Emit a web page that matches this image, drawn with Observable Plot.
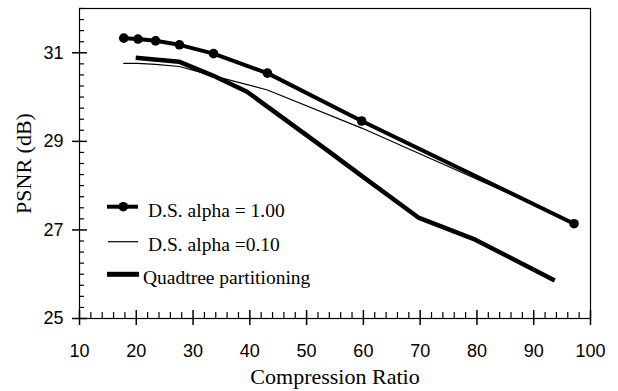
<!DOCTYPE html>
<html>
<head>
<meta charset="utf-8">
<script src="https://cdn.jsdelivr.net/npm/d3@7"></script>
<script src="https://cdn.jsdelivr.net/npm/@observablehq/plot@0.6"></script>
<style>
  html, body { margin: 0; padding: 0; background: #fff; }
  #wrap { position: relative; width: 618px; height: 391px; }
  #wrap svg.plot { position: absolute; left: 0; top: 0; }
  g[aria-label="x-axis tick label"], g[aria-label="y-axis tick label"] {
    font-family: "Liberation Sans", Arial, sans-serif; font-size: 18px;
  }
  #legend { position: absolute; left: 0; top: 0; pointer-events: none; }
  #legend text { font-family: "Liberation Serif", "Times New Roman", serif; font-size: 19.5px; fill: #000; }
</style>
</head>
<body>
<div id="wrap"></div>
<script>
// Data
const ratioDS1  = [17.8, 20.3, 23.4, 27.6, 33.6, 43.1, 59.7, 97.1];
const psnrDS1   = [31.33, 31.31, 31.27, 31.18, 30.98, 30.54, 29.46, 27.14];
const ratioDS01 = [17.8, 20.3, 23.4, 27.6, 33.6, 43.1, 59.7, 97.0];
const psnrDS01  = [30.76, 30.76, 30.74, 30.69, 30.48, 30.16, 29.30, 27.18];
const ratioQT   = [19.9, 27.5, 33.6, 39.5, 53.3, 59.7, 69.8, 79.7, 93.7];
const psnrQT    = [30.89, 30.80, 30.48, 30.12, 28.83, 28.22, 27.27, 26.78, 25.86];
const xTicks = [10, 20, 30, 40, 50, 60, 70, 80, 90, 100];
const yTicks = [25, 27, 29, 31];
const xMinor = d3.range(10, 100.01, 2).filter(v => v % 10 !== 0);
const yMinor = d3.range(25, 32.001, 0.25).filter(v => v % 2 !== 1);
const seriesNames = ["D.S. alpha = 1.00", "D.S. alpha =0.10", "Quadtree partitioning"];

const ds1  = ratioDS1.map((x, i) => ({x, y: psnrDS1[i]}));
const ds01 = ratioDS01.map((x, i) => ({x, y: psnrDS01[i]}));
const qt   = ratioQT.map((x, i) => ({x, y: psnrQT[i]}));

const W = 618, H = 391, mL = 79, mR = 28, mT = 8, mB = 73;
const pxX = (100 - 10) / (W - mL - mR);   // data units per pixel
const pxY = (32 - 25) / (H - mT - mB);

const chart = Plot.plot({
  width: W, height: H,
  marginLeft: mL, marginRight: mR, marginTop: mT, marginBottom: mB,
  style: { fontFamily: "Liberation Serif, serif", fontSize: "18px", color: "#000", background: "#fff" },
  x: { domain: [10, 100] },
  y: { domain: [25, 32] },
  marks: [
    Plot.frame({ stroke: "#000", strokeWidth: 1.2 }),
    // minor ticks (inward)
    Plot.ruleX(xMinor, { y1: 25, y2: 25 + 6 * pxY, stroke: "#000", strokeWidth: 1.2 }),
    Plot.ruleY(yMinor, { x1: 10, x2: 10 + 5 * pxX, stroke: "#000", strokeWidth: 1.2 }),
    // major ticks (inward part)
    Plot.ruleX(xTicks, { y1: 25, y2: 25 + 8 * pxY, stroke: "#000", strokeWidth: 1.5 }),
    Plot.ruleY(yTicks, { x1: 10, x2: 10 + 8 * pxX, stroke: "#000", strokeWidth: 1.5 }),
    Plot.axisX({ ticks: xTicks, tickSize: 7, tickPadding: 19, tickFormat: d => String(d), label: null, strokeWidth: 1.5 }),
    Plot.axisY({ ticks: yTicks, tickSize: 7, tickPadding: 9, tickFormat: d => String(d), label: null, strokeWidth: 1.5 }),
    Plot.text(["Compression Ratio"], { frameAnchor: "bottom", dy: 58, fontSize: 22, fontFamily: "Liberation Serif, serif", lineAnchor: "middle", textAnchor: "middle" }),
    Plot.text(["PSNR (dB)"], { frameAnchor: "left", dx: -56, rotate: -90, fontSize: 22, fontFamily: "Liberation Serif, serif", lineAnchor: "middle", textAnchor: "middle" }),
    // series
    Plot.line(ds01, { x: "x", y: "y", stroke: "#000", strokeWidth: 1.2 }),
    Plot.line(qt, { x: "x", y: "y", stroke: "#000", strokeWidth: 4.5, strokeLinecap: "butt" }),
    Plot.line(ds1, { x: "x", y: "y", stroke: "#000", strokeWidth: 4 }),
    Plot.dot(ds1, { x: "x", y: "y", r: 4.8, fill: "#000" })
  ]
});
chart.classList.add("plot");
const wrap = document.getElementById("wrap");
wrap.appendChild(chart);

// Legend overlay (inside the plot area, left side)
const ns = "http://www.w3.org/2000/svg";
const leg = document.createElementNS(ns, "svg");
leg.setAttribute("id", "legend");
leg.setAttribute("width", W);
leg.setAttribute("height", H);
const entries = [
  { name: seriesNames[0], y: 206.7, x1: 107, x2: 138, sw: 4, dot: true, tx: 148, by: 216.5 },
  { name: seriesNames[1], y: 241.7, x1: 108, x2: 138, sw: 1.2, dot: false, tx: 148, by: 250.8 },
  { name: seriesNames[2], y: 274.3, x1: 107, x2: 139, sw: 5, dot: false, tx: 143, by: 284 }
];
for (const e of entries) {
  const l = document.createElementNS(ns, "line");
  l.setAttribute("x1", e.x1); l.setAttribute("x2", e.x2);
  l.setAttribute("y1", e.y); l.setAttribute("y2", e.y);
  l.setAttribute("stroke", "#000"); l.setAttribute("stroke-width", e.sw);
  leg.appendChild(l);
  if (e.dot) {
    const c = document.createElementNS(ns, "circle");
    c.setAttribute("cx", 123.3); c.setAttribute("cy", e.y); c.setAttribute("r", 4.8);
    c.setAttribute("fill", "#000");
    leg.appendChild(c);
  }
  const t = document.createElementNS(ns, "text");
  t.setAttribute("x", e.tx); t.setAttribute("y", e.by);
  t.textContent = e.name;
  leg.appendChild(t);
}
wrap.appendChild(leg);
</script>
</body>
</html>
